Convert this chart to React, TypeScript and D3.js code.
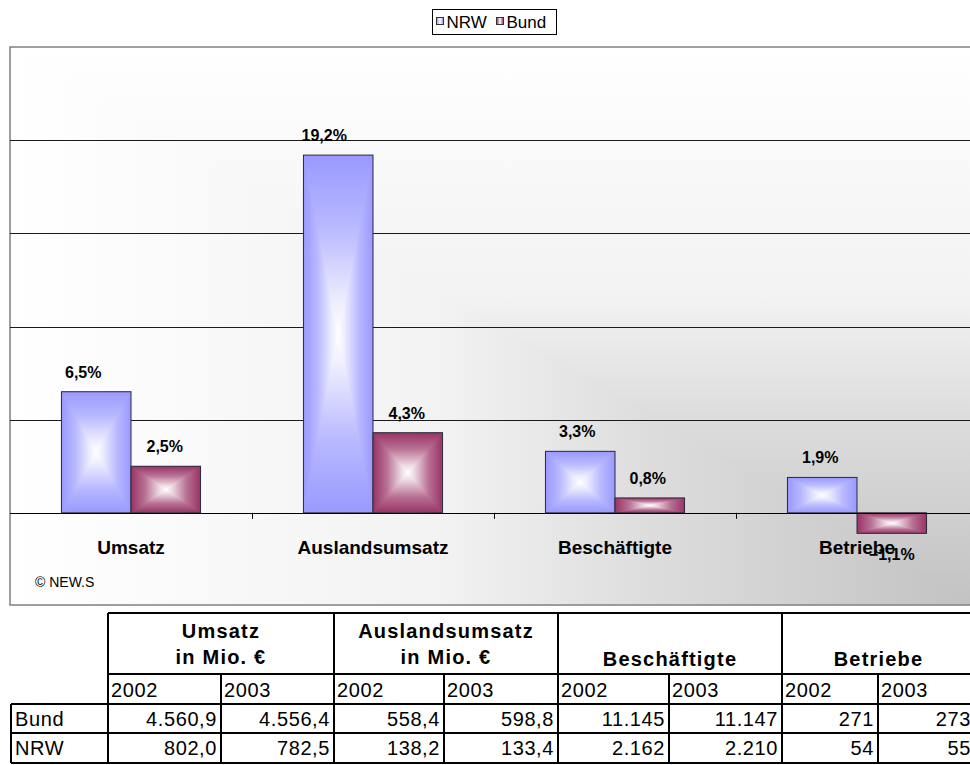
import React from "react";
import * as d3 from "d3";

const categories = ["Umsatz", "Auslandsumsatz", "Beschäftigte", "Betriebe"];
const seriesNames = ["NRW", "Bund"];
const nrwValues = [6.5, 19.2, 3.3, 1.9];
const bundValues = [2.5, 4.3, 0.8, -1.1];
const gridValues = [5, 10, 15, 20];

const tableHeaders = [["Umsatz", "in Mio. €"], ["Auslandsumsatz", "in Mio. €"], ["Beschäftigte"], ["Betriebe"]];
const tableYears = ["2002", "2003"];
const tableRowLabels = ["Bund", "NRW"];
const bundRow = ["4.560,9", "4.556,4", "558,4", "598,8", "11.145", "11.147", "271", "273"];
const nrwRow = ["802,0", "782,5", "138,2", "133,4", "2.162", "2.210", "54", "55"];

const FONT = "'Liberation Sans', Arial, sans-serif";
const seriesColors = ["#9999ff", "#993366"];
const nrwLabelShift = [-13, -14, -3, -2];
const bundLabelShift = [-1, -1, -2, 0];

export default function App() {
  const W = 970, H = 765;
  const box = { x: 10, y: 47, w: 965, h: 558 };
  const x0 = d3.scaleBand<string>().domain(categories).range([10, 978]).paddingInner(0).paddingOuter(0);
  const x1 = d3.scaleBand<string>().domain(seriesNames).range([0, x0.bandwidth()]).paddingInner(0).paddingOuter(0.74);
  const y = d3.scaleLinear().domain([-5, 25]).range([606, 47]);
  const values = [nrwValues, bundValues];
  const shifts = [nrwLabelShift, bundLabelShift];

  const mix = (c: string, t: number) => d3.interpolateRgb(c, "#ffffff")(t);
  // edge (0) -> centre (1)
  const edgeToCentre = (c: string) => [
    [0, c],
    [0.4, mix(c, 0.3)],
    [0.8, mix(c, 0.8)],
    [1, "#ffffff"],
  ] as [number, string][];

  const barStops = (c: string, reverse: boolean) => {
    const base = edgeToCentre(c);
    const s = reverse ? base.map(([o, col]) => [1 - o, col] as [number, string]).reverse() : base;
    return s.map(([o, col], i) => <stop key={i} offset={o} stopColor={col} />);
  };
  const symStops = (c: string) => {
    const base = edgeToCentre(c);
    const left = base.map(([o, col]) => [o / 2, col] as [number, string]);
    const right = base.slice(0, -1).map(([o, col]) => [1 - o / 2, col] as [number, string]).reverse();
    return [...left, ...right].map(([o, col], i) => <stop key={i} offset={o} stopColor={col} />);
  };

  const bgStops = [
    [0, "#ffffff"],
    [0.45, "#f2f2f2"],
    [0.65, "#dedede"],
    [1, "#c2c2c2"],
  ] as [number, string][];

  const colEdges = [108, 221, 334, 444, 558, 669, 782, 878, 975];
  const rowEdges = [613, 674, 704, 733, 763];
  const tableLeft = 11;
  const tableRows = [bundRow, nrwRow];

  return (
    <svg width={W} height={H} style={{ position: "absolute", left: 0, top: 0, display: "block" }} fontFamily={FONT}>
      <defs>
        <linearGradient id="bgH" gradientUnits="userSpaceOnUse" x1={box.x} y1={0} x2={box.x + box.w} y2={0}>
          {bgStops.map(([o, c], i) => <stop key={i} offset={o} stopColor={c} />)}
        </linearGradient>
        <linearGradient id="bgV" gradientUnits="userSpaceOnUse" x1={0} y1={box.y} x2={0} y2={box.y + box.h}>
          {bgStops.map(([o, c], i) => <stop key={i} offset={o} stopColor={c} />)}
        </linearGradient>
        {seriesColors.map((c, si) => (
          <React.Fragment key={si}>
            <linearGradient id={`h${si}`} x1="0" y1="0" x2="1" y2="0">{symStops(c)}</linearGradient>
            <linearGradient id={`t${si}`} x1="0" y1="0" x2="0" y2="1">{barStops(c, false)}</linearGradient>
            <linearGradient id={`b${si}`} x1="0" y1="0" x2="0" y2="1">{barStops(c, true)}</linearGradient>
          </React.Fragment>
        ))}
      </defs>

      {/* Legend */}
      <rect x={432.5} y={9.5} width={124} height={25} fill="#ffffff" stroke="#000" strokeWidth={1} />
      {seriesNames.map((s, i) => {
        const lx = i === 0 ? 436.5 : 496.5;
        return (
          <g key={s}>
            <rect x={lx} y={17.5} width={7} height={7} fill={`url(#h${i})`} stroke="#333" strokeWidth={1} />
            <text x={lx + 10} y={28} fontSize={17} fill="#000">{s}</text>
          </g>
        );
      })}

      {/* Chart background box */}
      <rect x={box.x} y={box.y} width={box.w} height={box.h} fill="url(#bgH)" />
      <polygon
        points={`${box.x},${box.y} ${box.x + box.w},${box.y} ${box.x + box.w},${box.y + box.h}`}
        fill="url(#bgV)"
      />
      <rect x={box.x} y={box.y} width={box.w} height={box.h} fill="none" stroke="#808080" strokeWidth={1.5} />

      {/* Gridlines */}
      {gridValues.map((v) => (
        <line key={v} x1={box.x} x2={box.x + box.w} y1={Math.round(y(v)) + 0.5} y2={Math.round(y(v)) + 0.5} stroke="#1a1a1a" strokeWidth={1} />
      ))}

      {/* Bars */}
      {categories.map((cat, ci) =>
        seriesNames.map((s, si) => {
          const v = values[si][ci];
          const bx = (x0(cat) as number) + (x1(s) as number);
          const bw = x1.bandwidth();
          const yTop = y(Math.max(0, v));
          const yBot = y(Math.min(0, v));
          const cx = bx + bw / 2;
          const cy = (yTop + yBot) / 2;
          return (
            <g key={cat + s}>
              <rect x={bx} y={yTop} width={bw} height={yBot - yTop} fill={`url(#h${si})`} />
              <polygon points={`${bx},${yTop} ${bx + bw},${yTop} ${cx},${cy}`} fill={`url(#t${si})`} />
              <polygon points={`${bx},${yBot} ${bx + bw},${yBot} ${cx},${cy}`} fill={`url(#b${si})`} />
              <rect x={bx} y={yTop} width={bw} height={yBot - yTop} fill="none" stroke="#2a2a3a" strokeWidth={1} />
            </g>
          );
        })
      )}

      {/* Baseline and ticks */}
      <line x1={box.x} x2={box.x + box.w} y1={Math.round(y(0)) + 0.5} y2={Math.round(y(0)) + 0.5} stroke="#000" strokeWidth={1} />
      {categories.slice(1).map((cat) => (
        <line key={cat} x1={(x0(cat) as number) + 0.5} x2={(x0(cat) as number) + 0.5} y1={y(0)} y2={y(0) + 6} stroke="#000" strokeWidth={1} />
      ))}

      {/* Category labels */}
      {categories.map((cat) => (
        <text key={cat} x={(x0(cat) as number) + x0.bandwidth() / 2} y={554} textAnchor="middle" fontSize={19} fontWeight="bold" fill="#000">
          {cat}
        </text>
      ))}

      {/* Value labels */}
      {categories.map((cat, ci) =>
        seriesNames.map((s, si) => {
          const v = values[si][ci];
          const cx = (x0(cat) as number) + (x1(s) as number) + x1.bandwidth() / 2 + shifts[si][ci];
          const ty = v >= 0 ? y(v) - 14 : y(v) + 27;
          return (
            <text key={cat + s + "l"} x={cx} y={ty} textAnchor="middle" fontSize={16} fontWeight="bold" fill="#000">
              {d3.format(".1f")(v).replace(".", ",")}%
            </text>
          );
        })
      )}

      <text x={35} y={587} fontSize={14} fill="#000">© NEW.S</text>

      {/* Table */}
      <g>
        {tableHeaders.map((lines, gi) => {
          const xl = colEdges[gi * 2];
          const xr = colEdges[gi * 2 + 2];
          const cxm = (xl + xr) / 2;
          if (lines.length === 2) {
            return (
              <g key={gi}>
                <text x={cxm} y={638} textAnchor="middle" fontSize={20} fontWeight="bold" letterSpacing={1.2}>{lines[0]}</text>
                <text x={cxm} y={664} textAnchor="middle" fontSize={20} fontWeight="bold" letterSpacing={1.2}>{lines[1]}</text>
              </g>
            );
          }
          return (
            <text key={gi} x={cxm} y={666} textAnchor="middle" fontSize={20} fontWeight="bold" letterSpacing={1.2}>{lines[0]}</text>
          );
        })}
        {colEdges.slice(0, 8).map((xe, i) => (
          <text key={"yr" + i} x={xe + 3} y={697} fontSize={20} letterSpacing={0.6}>{tableYears[i % 2]}</text>
        ))}
        {tableRows.map((row, ri) => (
          <g key={"r" + ri}>
            <text x={tableLeft + 4} y={rowEdges[2 + ri] + 22} fontSize={20} letterSpacing={0.6}>{tableRowLabels[ri]}</text>
            {row.map((val, i) => (
              <text key={i} x={colEdges[i + 1] - 4} y={rowEdges[2 + ri] + 22} fontSize={20} textAnchor="end" letterSpacing={0.6}>{val}</text>
            ))}
          </g>
        ))}
        <g stroke="#000" strokeWidth={2}>
          <line x1={colEdges[0]} x2={975} y1={rowEdges[0]} y2={rowEdges[0]} />
          <line x1={colEdges[0]} x2={975} y1={rowEdges[1]} y2={rowEdges[1]} />
          <line x1={tableLeft} x2={975} y1={rowEdges[2]} y2={rowEdges[2]} />
          <line x1={tableLeft} x2={975} y1={rowEdges[3]} y2={rowEdges[3]} />
          <line x1={tableLeft} x2={975} y1={rowEdges[4]} y2={rowEdges[4]} />
          <line x1={tableLeft} x2={tableLeft} y1={rowEdges[2]} y2={rowEdges[4]} />
          {colEdges.map((xe, i) => (
            <line key={"c" + i} x1={xe} x2={xe} y1={i % 2 === 0 ? rowEdges[0] : rowEdges[1]} y2={rowEdges[4]} />
          ))}
        </g>
      </g>
    </svg>
  );
}
